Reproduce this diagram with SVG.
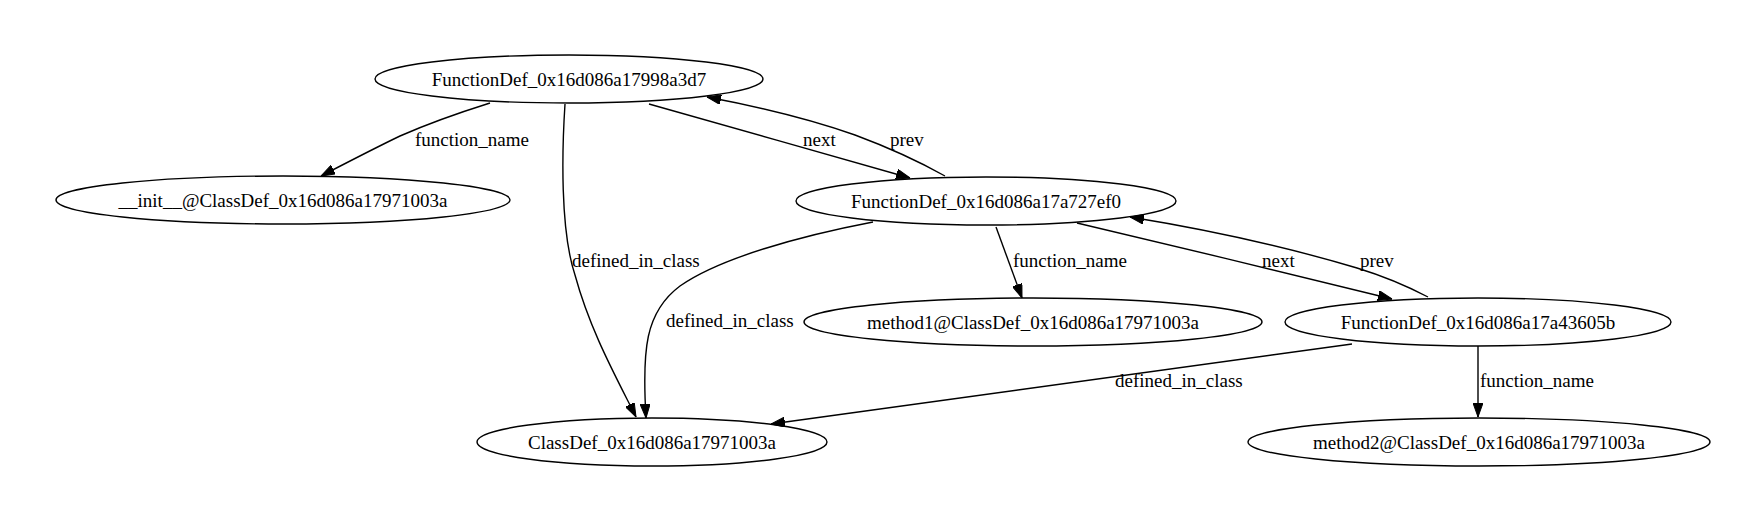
<svg xmlns="http://www.w3.org/2000/svg" width="1763" height="523" viewBox="0 0 1763 523">
<style>
  .node ellipse { fill: none; stroke: #000; stroke-width: 1.4; }
  .node text { font-family: "Liberation Serif", "Times New Roman", serif; font-size: 19px; text-anchor: middle; fill: #000; }
  .edges path { fill: none; stroke: #000; stroke-width: 1.4; marker-end: url(#arrow); }
  .edges text { font-family: "Liberation Serif", "Times New Roman", serif; font-size: 19px; fill: #000; }
</style>
<defs>
  <marker id="arrow" markerUnits="userSpaceOnUse" markerWidth="14" markerHeight="10" refX="14" refY="5" orient="auto">
    <path d="M0,0 L14,5 L0,10 z" fill="#000" stroke="#000" stroke-width="1"/>
  </marker>
</defs>
<rect width="1763" height="523" fill="#fff"/>
<g class="edges">
  <path d="M490,103 C455,114 425,125 400,136 C375,148 350,161 321,176"/>
  <text x="415" y="146">function_name</text>
  <path d="M565,104 C562,150 560,230 575,275 C590,330 615,375 636,417"/>
  <text x="572" y="267">defined_in_class</text>
  <path d="M649,104 C730,127 830,155 910,178"/>
  <text x="803" y="146">next</text>
  <path d="M945,176 C920,162 890,148 855,135 C810,119 760,107 707,97"/>
  <text x="890" y="146">prev</text>
  <path d="M873,222 C800,236 720,258 680,286 C645,312 642,350 646,418"/>
  <text x="666" y="327">defined_in_class</text>
  <path d="M996,227 L1022,298"/>
  <text x="1013" y="267">function_name</text>
  <path d="M1077,223 C1180,247 1290,274 1392,299"/>
  <text x="1262" y="267">next</text>
  <path d="M1428,297 C1405,285 1380,275 1357,268 C1290,248 1210,230 1130,217"/>
  <text x="1360" y="267">prev</text>
  <path d="M1352,344 L771,424"/>
  <text x="1115" y="387">defined_in_class</text>
  <path d="M1478,346 L1478,417"/>
  <text x="1480" y="387">function_name</text>
</g>
<g id="n1" class="node"><ellipse cx="569" cy="79" rx="194" ry="24"/><text x="569" y="86">FunctionDef_0x16d086a17998a3d7</text></g>
<g id="n2" class="node"><ellipse cx="283" cy="200" rx="227" ry="24"/><text x="283" y="207">__init__@ClassDef_0x16d086a17971003a</text></g>
<g id="n3" class="node"><ellipse cx="986" cy="201" rx="190" ry="24"/><text x="986" y="208">FunctionDef_0x16d086a17a727ef0</text></g>
<g id="n4" class="node"><ellipse cx="1033" cy="322" rx="229" ry="24"/><text x="1033" y="329">method1@ClassDef_0x16d086a17971003a</text></g>
<g id="n5" class="node"><ellipse cx="1478" cy="322" rx="193" ry="24"/><text x="1478" y="329">FunctionDef_0x16d086a17a43605b</text></g>
<g id="n6" class="node"><ellipse cx="652" cy="442" rx="175" ry="24"/><text x="652" y="449">ClassDef_0x16d086a17971003a</text></g>
<g id="n7" class="node"><ellipse cx="1479" cy="442" rx="231" ry="24"/><text x="1479" y="449">method2@ClassDef_0x16d086a17971003a</text></g>
</svg>
